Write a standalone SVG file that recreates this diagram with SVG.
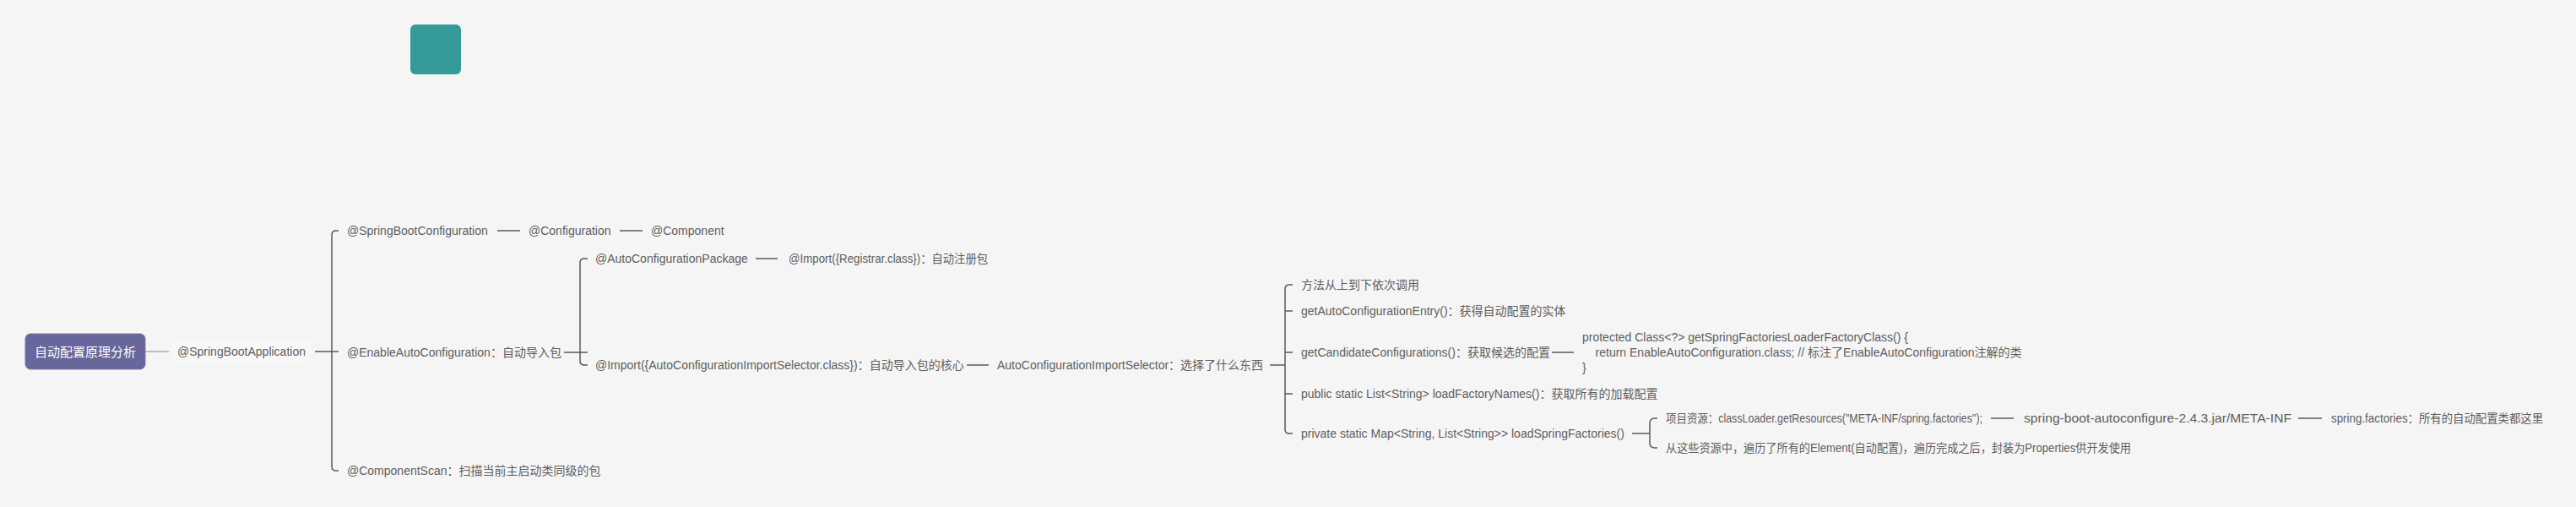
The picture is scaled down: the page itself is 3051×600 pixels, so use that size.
<svg xmlns="http://www.w3.org/2000/svg" width="3051" height="600" viewBox="0 0 3051 600">
<style>
.t{font-family:"Liberation Sans","Noto Sans CJK SC",sans-serif;font-size:14px;fill:#5e5e5e;dominant-baseline:central}
.c{fill:none;stroke:#5a5a5a;stroke-width:1.5}
.cl{fill:none;stroke:#9a9a9a;stroke-width:1.2}
.bg{fill:#f8f8f8}
</style>
<rect width="3051" height="600" fill="#f5f5f5"/>
<g id="deco"><rect x="486" y="29" width="60" height="59" rx="6" fill="#359a98"/></g>
<g id="connectors">
<path class="cl" d="M172 416H200"/>
<path class="c" d="M373 416H401"/>
<path class="c" d="M401 273H398Q393 273 393 278V552Q393 557 398 557H401"/>
<path class="c" d="M589 273H616M734 273H761"/>
<path class="c" d="M668 417H696"/>
<path class="c" d="M696 306H692Q687 306 687 311V427Q687 432 692 432H696"/>
<path class="c" d="M895 306H921"/>
<path class="c" d="M1145 432H1171"/>
<path class="c" d="M1504 432H1522"/>
<path class="c" d="M1531 337H1527Q1522 337 1522 342V508Q1522 513 1527 513H1531"/>
<path class="c" d="M1522 368H1531M1522 417H1531M1522 466H1531"/>
<path class="c" d="M1838 417H1864"/>
<path class="c" d="M1933 513H1954"/>
<path class="c" d="M1963 495H1960Q1954 495 1954 501V524Q1954 530 1960 530H1963"/>
<path class="c" d="M2358 495H2385M2722 495H2750"/>
</g>
<g id="root"><rect x="30" y="395" width="142" height="42" rx="6" fill="#67679b" stroke="#7b7bab"/><text x="101" y="416" text-anchor="middle" style="font-family:'Liberation Sans','Noto Sans CJK SC',sans-serif;font-size:15px;fill:#fff;dominant-baseline:central">自动配置原理分析</text></g>
<g id="n-sba"><rect class="bg" x="204" y="404" width="164" height="24" rx="4"/><text class="t" x="210" y="416">@SpringBootApplication</text></g>
<g id="n-sbc"><text class="t" x="411" y="273">@SpringBootConfiguration</text></g>
<g id="n-conf"><text class="t" x="626" y="273">@Configuration</text></g>
<g id="n-comp"><text class="t" x="771" y="273">@Component</text></g>
<g id="n-eac"><text class="t" x="411" y="417">@EnableAutoConfiguration：自动导入包</text></g>
<g id="n-cs"><text class="t" x="411" y="557">@ComponentScan：扫描当前主启动类同级的包</text></g>
<g id="n-acp"><text class="t" x="705" y="306">@AutoConfigurationPackage</text></g>
<g id="n-reg"><text class="t" x="934" y="306" textLength="236" lengthAdjust="spacingAndGlyphs">@Import({Registrar.class})：自动注册包</text></g>
<g id="n-imp"><text class="t" x="705" y="432">@Import({AutoConfigurationImportSelector.class})：自动导入包的核心</text></g>
<g id="n-sel"><text class="t" x="1181" y="432">AutoConfigurationImportSelector：选择了什么东西</text></g>
<g id="n-m1"><text class="t" x="1541" y="337">方法从上到下依次调用</text></g>
<g id="n-m2"><text class="t" x="1541" y="368">getAutoConfigurationEntry()：获得自动配置的实体</text></g>
<g id="n-m3"><text class="t" x="1541" y="417">getCandidateConfigurations()：获取候选的配置</text></g>
<g id="n-m4"><text class="t" x="1541" y="466">public static List&lt;String&gt; loadFactoryNames()：获取所有的加载配置</text></g>
<g id="n-m5"><text class="t" x="1541" y="513">private static Map&lt;String, List&lt;String&gt;&gt; loadSpringFactories()</text></g>
<g id="n-code"><text class="t" x="1874" y="399">protected Class&lt;?&gt; getSpringFactoriesLoaderFactoryClass() {</text><text class="t" x="1874" y="417" xml:space="preserve">    return EnableAutoConfiguration.class; // 标注了EnableAutoConfiguration注解的类</text><text class="t" x="1874" y="435">}</text></g>
<g id="n-res"><text class="t" x="1973" y="495" textLength="375" lengthAdjust="spacingAndGlyphs">项目资源：classLoader.getResources("META-INF/spring.factories");</text></g>
<g id="n-jar"><text class="t" x="2397" y="495" textLength="317" lengthAdjust="spacingAndGlyphs">spring-boot-autoconfigure-2.4.3.jar/META-INF</text></g>
<g id="n-sf"><text class="t" x="2761" y="495" textLength="251" lengthAdjust="spacingAndGlyphs">spring.factories：所有的自动配置类都这里</text></g>
<g id="n-iter"><text class="t" x="1973" y="530" textLength="551" lengthAdjust="spacingAndGlyphs">从这些资源中，遍历了所有的Element(自动配置)，遍历完成之后，封装为Properties供开发使用</text></g>
</svg>
